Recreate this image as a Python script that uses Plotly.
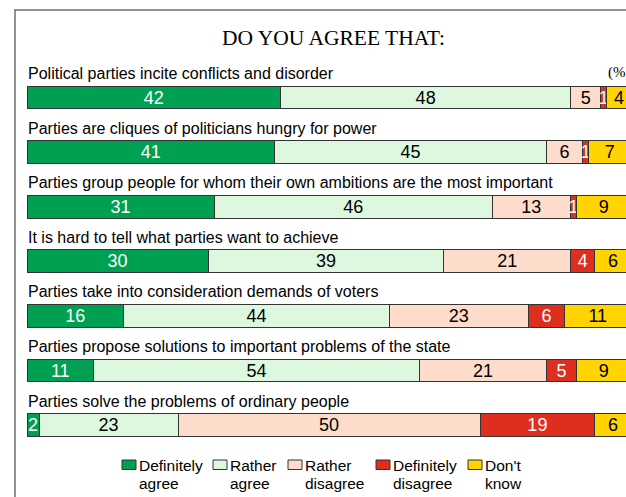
import plotly.graph_objects as go

# Survey statements (top to bottom)
statements = [
    "Political parties incite conflicts and disorder",
    "Parties are cliques of politicians hungry for power",
    "Parties group people for whom their own ambitions are the most important",
    "It is hard to tell what parties want to achieve",
    "Parties take into consideration demands of voters",
    "Parties propose solutions to important problems of the state",
    "Parties solve the problems of ordinary people",
]

# Answer categories and shares (%)
categories = ["Definitely agree", "Rather agree", "Rather disagree", "Definitely disagree", "Don't know"]
legend_lines = [("Definitely", "agree"), ("Rather", "agree"), ("Rather", "disagree"),
                ("Definitely", "disagree"), ("Don't", "know")]
definitely_agree = [42, 41, 31, 30, 16, 11, 2]
rather_agree = [48, 45, 46, 39, 44, 54, 23]
rather_disagree = [5, 6, 13, 21, 23, 21, 50]
definitely_disagree = [1, 1, 1, 4, 6, 5, 19]
dont_know = [4, 7, 9, 6, 11, 9, 6]
series = [definitely_agree, rather_agree, rather_disagree, definitely_disagree, dont_know]

colors = ["#00A052", "#DDF8DF", "#FDDCCC", "#DE2E1E", "#FFD400"]
text_colors = ["white", "black", "black", "white", "black"]
edge = "#333333"

W, H = 626, 497
ML, MR, MT, MB = 27, 0, 60, 37
plot_w = W - ML - MR
plot_h = H - MT - MB


def px_x(p):
    return (p - ML) / plot_w


def px_y(p):
    return (H - MB - p) / plot_h


rows = list(range(len(statements)))

fig = go.Figure()
for name, vals, col, tcol in zip(categories, series, colors, text_colors):
    fig.add_trace(go.Bar(
        y=rows, x=vals, orientation="h", name=name, width=0.42,
        marker=dict(color=col, line=dict(color=edge, width=1)),
        text=[str(v) for v in vals], textposition="inside", textangle=0,
        insidetextanchor="middle", constraintext="none",
        textfont=dict(family="Liberation Sans, Arial", size=18, color=tcol),
        hoverinfo="skip", showlegend=False,
    ))

annotations = []
for i, s in enumerate(statements):
    annotations.append(dict(
        x=0, y=i, xref="x", yref="y", text=s, showarrow=False,
        xanchor="left", yanchor="middle", yshift=24, xshift=-1,
        font=dict(family="Liberation Sans, Arial", size=16, color="black"),
    ))

annotations.append(dict(
    x=px_x(334), y=px_y(38), xref="paper", yref="paper",
    text="DO YOU AGREE THAT:", showarrow=False, xanchor="center", yanchor="middle",
    font=dict(family="Liberation Serif, Times New Roman", size=21.5, color="black"),
))
annotations.append(dict(
    x=px_x(606), y=px_y(72), xref="paper", yref="paper",
    text="(%)", showarrow=False, xanchor="left", yanchor="middle",
    font=dict(family="Liberation Serif, Times New Roman", size=15, color="black"),
))

# Legend drawn as swatches with two-line captions
shapes = []
swatch_x = [122, 213, 288, 376, 468]
for sx, col, (l1, l2) in zip(swatch_x, colors, legend_lines):
    shapes.append(dict(
        type="rect", xref="paper", yref="paper",
        x0=px_x(sx), x1=px_x(sx + 14), y0=px_y(460), y1=px_y(469.5),
        fillcolor=col, line=dict(color=edge, width=1),
    ))
    for txt, yc in ((l1, 465), (l2, 483)):
        annotations.append(dict(
            x=px_x(sx + 15), y=px_y(yc), xref="paper", yref="paper",
            text=txt, showarrow=False, xanchor="left", yanchor="middle",
            font=dict(family="Liberation Sans, Arial", size=15.5, color="black"),
        ))

# Frame around the chart
shapes.append(dict(
    type="rect", xref="paper", yref="paper",
    x0=px_x(15), x1=px_x(W + 20), y0=px_y(H + 20), y1=px_y(10),
    line=dict(color="#6E6E6E", width=1.5), fillcolor="rgba(0,0,0,0)", layer="below",
))

px_per_unit = 6.04
row_px = 54.6
top_row_center = 97.5
y_top = 0 - (top_row_center - MT) / row_px
y_bottom = y_top + plot_h / row_px

fig.update_layout(
    width=W, height=H, barmode="stack",
    margin=dict(l=ML, r=MR, t=MT, b=MB, pad=0),
    paper_bgcolor="white", plot_bgcolor="white",
    xaxis=dict(range=[0, plot_w / px_per_unit], visible=False, fixedrange=True),
    yaxis=dict(range=[y_bottom, y_top], visible=False, fixedrange=True),
    annotations=annotations, shapes=shapes, showlegend=False,
    uniformtext=dict(minsize=18, mode="show"),
)

fig.write_html("out.html")
